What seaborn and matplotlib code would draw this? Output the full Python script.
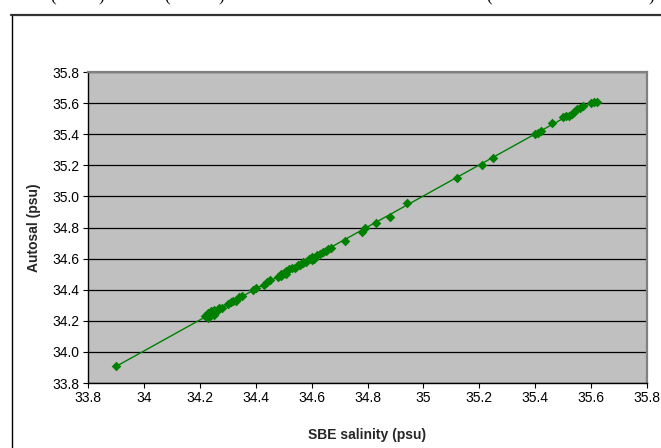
import matplotlib
matplotlib.use("Agg")
import matplotlib.pyplot as plt
from matplotlib.lines import Line2D
import seaborn as sns
import pandas as pd

sbe_salinity = [33.90,
    34.22, 34.23, 34.23, 34.24, 34.24, 34.25, 34.25, 34.26, 34.27, 34.28,
    34.30, 34.31, 34.32, 34.33, 34.34, 34.35,
    34.39, 34.40,
    34.43, 34.44, 34.45,
    34.48, 34.49, 34.49, 34.50, 34.51, 34.51, 34.52, 34.53, 34.54, 34.55, 34.56, 34.57,
    34.57, 34.58, 34.59, 34.60, 34.60, 34.61, 34.62, 34.63, 34.64, 34.65, 34.66, 34.67,
    34.72, 34.78, 34.79, 34.83, 34.88, 34.94,
    35.12, 35.21, 35.25,
    35.40, 35.41, 35.42, 35.46, 35.50, 35.51, 35.52, 35.53, 35.54, 35.55, 35.56, 35.57,
    35.60, 35.61, 35.62]
autosal = [33.91,
    34.23, 34.25, 34.22, 34.24, 34.26, 34.24, 34.27, 34.26, 34.28, 34.28,
    34.31, 34.32, 34.33, 34.33, 34.35, 34.36,
    34.40, 34.41,
    34.43, 34.45, 34.46,
    34.48, 34.50, 34.49, 34.51, 34.50, 34.52, 34.53, 34.54, 34.54, 34.56, 34.56, 34.57,
    34.58, 34.58, 34.60, 34.59, 34.61, 34.60, 34.62, 34.63, 34.64, 34.65, 34.66, 34.67,
    34.71, 34.77, 34.80, 34.83, 34.87, 34.96,
    35.12, 35.20, 35.25,
    35.40, 35.41, 35.42, 35.47, 35.51, 35.52, 35.52, 35.53, 35.54, 35.56, 35.57, 35.58,
    35.60, 35.61, 35.61]

x_ticks = [33.8, 34.0, 34.2, 34.4, 34.6, 34.8, 35.0, 35.2, 35.4, 35.6, 35.8]
x_tick_labels = ["33.8", "34", "34.2", "34.4", "34.6", "34.8", "35", "35.2", "35.4", "35.6", "35.8"]
y_ticks = [33.8, 34.0, 34.2, 34.4, 34.6, 34.8, 35.0, 35.2, 35.4, 35.6, 35.8]
y_tick_labels = ["33.8", "34.0", "34.2", "34.4", "34.6", "34.8", "35.0", "35.2", "35.4", "35.6", "35.8"]

df = pd.DataFrame({"SBE salinity (psu)": sbe_salinity, "Autosal (psu)": autosal})

sns.set_style("white")
plt.rcParams["font.family"] = ["Liberation Sans", "DejaVu Sans"]

W, H = 661, 448
fig = plt.figure(figsize=(W / 100, H / 100), dpi=100)
fig.patch.set_facecolor("white")

L, R, T, B = 88, 647, 72, 383
ax = fig.add_axes([L / W, 1 - B / H, (R - L) / W, (B - T) / H])
ax.set_facecolor("#C0C0C0")

green = "#008000"
sns.regplot(data=df, x="SBE salinity (psu)", y="Autosal (psu)", ax=ax, ci=None,
            marker="D", color=green,
            scatter_kws={"s": 24, "linewidths": 0, "alpha": 1, "zorder": 3},
            line_kws={"lw": 1.0, "color": green, "zorder": 2})

ax.set_xlim(33.8, 35.8)
ax.set_ylim(33.8, 35.8)
ax.set_xticks(x_ticks)
ax.set_xticklabels(x_tick_labels)
ax.set_yticks(y_ticks)
ax.set_yticklabels(y_tick_labels)

ax.yaxis.grid(True, color="black", lw=0.9)
ax.xaxis.grid(False)
ax.set_axisbelow(True)

for side in ["left", "bottom"]:
    ax.spines[side].set_color("black")
    ax.spines[side].set_linewidth(1.0)
for side in ["top", "right"]:
    ax.spines[side].set_color("#808080")
    ax.spines[side].set_linewidth(1.6)

ax.tick_params(axis="both", direction="out", length=3.5, width=0.8, color="black",
               labelsize=10, labelcolor="black", pad=2.5)
ax.tick_params(axis="both", which="both", left=True, bottom=True)

ax.set_xlabel("SBE salinity (psu)", fontsize=10, fontweight="bold")
ax.set_ylabel("Autosal (psu)", fontsize=10, fontweight="bold")
ax.xaxis.set_label_coords(0.5, -(435 - B) / (B - T))
ax.yaxis.set_label_coords((34 - L) / (R - L), 0.5)
ax.xaxis.label.set_va("center")
ax.yaxis.label.set_va("center")

# outer chart border (partially visible frame)
fig.add_artist(Line2D([11.5 / W, 11.5 / W], [0, 1 - 15 / H], color="black", lw=1.0,
                      transform=fig.transFigure))
fig.add_artist(Line2D([11 / W, 1], [1 - 15.5 / H, 1 - 15.5 / H], color="#333333", lw=1.6,
                      transform=fig.transFigure))

# cut-off text fragments from the page above
for px, ch in [(53, "("), (101, ")"), (167, "("), (221, ")"), (489, "("), (651, ")")]:
    fig.text(px / W, 1 - 1 / H, ch, fontsize=12, family=["Liberation Serif", "DejaVu Serif"],
             ha="center", va="baseline", color="black")

fig.savefig("out.png", dpi=100)
